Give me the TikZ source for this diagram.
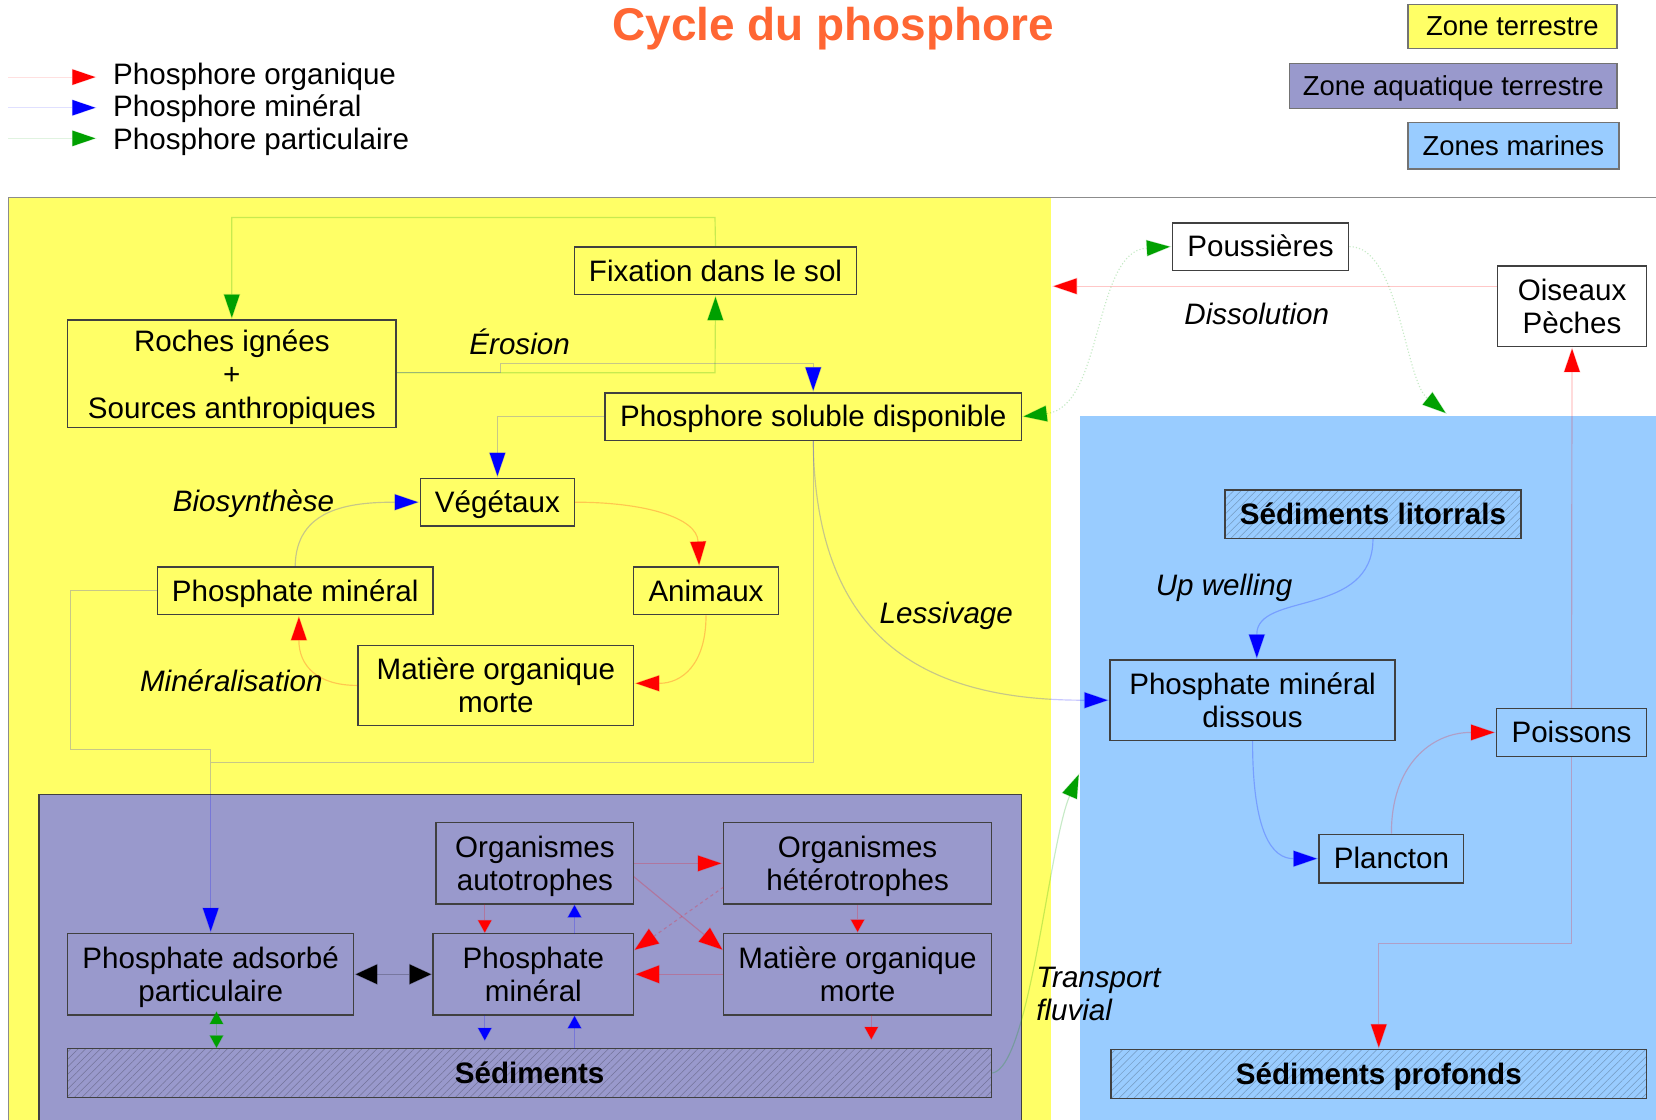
\documentclass[tikz,border=0pt]{standalone}
\usepackage{fontspec}
\setmainfont{Liberation Sans}
\usetikzlibrary{arrows.meta,patterns.meta}
\definecolor{zyel}{HTML}{FFFF66}
\definecolor{zpur}{HTML}{9999CC}
\definecolor{zblu}{HTML}{99CCFF}
\definecolor{ttl}{HTML}{FF6633}
\definecolor{grn}{HTML}{00A000}
\definecolor{bord}{HTML}{404040}
\newcommand\txtsz{\fontsize{28}{31.5}\selectfont}
\newcommand\stA{\rule[-5.9pt]{0pt}{31.2pt}}
\newcommand\stB{\rule[-5.5pt]{0pt}{29pt}}
\newcommand\mlA[1]{\raisebox{-4pt}[\height][\depth]{\begin{tabular}{@{}c@{}}#1\end{tabular}}}
\begin{document}
\begin{tikzpicture}[x=1pt,y=-1pt,
  every node/.style={font=\txtsz},
  bxbase/.style={draw=bord,line width=1.3pt,inner sep=0pt,align=center},
  bx/.style={bxbase,execute at begin node=\stA},
  one/.style={execute at begin node=\stA},
  hatchp/.style={bx,font=\txtsz\bfseries,pattern={Lines[angle=45,distance=5pt,line width=0.5pt]},pattern color=#1},
  zbox/.style={bxbase,draw=black!55,font=\fontsize{26}{30}\selectfont,execute at begin node=\stB},
  lbl/.style={font=\txtsz\itshape,inner sep=0pt},
  conn/.style={line width=1.1pt,draw opacity=0.22},
  big/.style={-{Triangle[length=24pt,width=16pt]}},
  sml/.style={-{Triangle[length=13pt,width=14pt]}},
  rl/.style={conn,draw=red},
  bl/.style={conn,draw=blue},
  gl/.style={conn,draw=grn},
]
\useasboundingbox (0,0) rectangle (1568,1060);
% regions
\fill[zyel] (8,187) rectangle (995,1060);
\fill[zblu] (1023,394) rectangle (1568,1060);
\draw[black!45,line width=1.5pt] (8,1060) -- (8,187) -- (1568,187);
\filldraw[fill=zpur,draw=bord,line width=1.3pt] (37,1060) -- (37,752) -- (967,752) -- (967,1060);
% title and legends
\node[font=\fontsize{43.5}{48}\selectfont\bfseries,text=ttl] (title) at (789,27) {Cycle du phosphore};
\coordinate (lr0) at (8,73); \coordinate (lr1) at (92,73);
\coordinate (lb0) at (8,102); \coordinate (lb1) at (92,102);
\coordinate (lg0) at (8,131); \coordinate (lg1) at (92,131);
\draw[rl,big,draw opacity=0.12] (lr0) -- (lr1);
\draw[bl,big,draw opacity=0.12] (lb0) -- (lb1);
\draw[gl,big,draw opacity=0.12] (lg0) -- (lg1);
\node[anchor=west,inner sep=0pt,one] (tlr) at (107,70) {Phosphore organique};
\node[anchor=west,inner sep=0pt,one] (tlb) at (107,101) {Phosphore minéral};
\node[anchor=west,inner sep=0pt,one] (tlg) at (107,132) {Phosphore particulaire};
\node[zbox,fill=zyel,minimum width=198pt,minimum height=42pt] (zt) at (1432,25) {Zone terrestre};
\node[zbox,fill=zpur,minimum width=310pt,minimum height=43pt] (za) at (1376,81.5) {Zone aquatique terrestre};
\node[zbox,fill=zblu,minimum width=200pt,minimum height=44pt] (zm) at (1433,138) {Zones marines};
% boxes
\node[bx,minimum width=267pt,minimum height=45pt] (fix) at (677.5,256.5) {Fixation dans le sol};
\node[bx,font=\fontsize{28}{32}\selectfont,minimum width=311pt,minimum height=102pt] (roc) at (219.5,354) {\mlA{Roches ignées\\+\\Sources anthropiques}};
\node[bx,minimum width=394pt,minimum height=45pt] (ps) at (770,394.5) {Phosphore soluble disponible};
\node[bx,minimum width=146pt,minimum height=45pt] (veg) at (471,475.5) {Végétaux};
\node[bx,minimum width=261pt,minimum height=45pt] (pml) at (279.5,559.5) {Phosphate minéral};
\node[bx,minimum width=137pt,minimum height=45pt] (ani) at (668.5,559.5) {Animaux};
\node[bx,minimum width=261pt,minimum height=76pt] (mol) at (469.5,649) {\mlA{Matière organique\\morte}};
\node[bx,fill=white,minimum width=167pt,minimum height=45pt] (pou) at (1193.5,233.5) {Poussières};
\node[bx,fill=white,minimum width=141pt,minimum height=76pt] (ois) at (1488.5,290) {\mlA{Oiseaux\\Pèches}};
\node[hatchp=zblu!75!black,minimum width=280pt,minimum height=46pt] (sdl) at (1300,487) {Sédiments litorrals};
\node[bx,minimum width=270pt,minimum height=76pt] (pmd) at (1186,663) {\mlA{Phosphate minéral\\dissous}};
\node[bx,minimum width=142pt,minimum height=45pt] (poi) at (1488,693.5) {Poissons};
\node[bx,minimum width=137pt,minimum height=46pt] (pla) at (1317.5,813) {Plancton};
\node[hatchp=zblu!75!black,minimum width=507pt,minimum height=46pt] (sdp) at (1305.5,1017) {Sédiments profonds};
\node[bx,minimum width=187pt,minimum height=77pt] (aut) at (506.5,817.5) {\mlA{Organismes\\autotrophes}};
\node[bx,minimum width=254pt,minimum height=77pt] (het) at (812,817.5) {\mlA{Organismes\\hétérotrophes}};
\node[bx,minimum width=271pt,minimum height=77pt] (pad) at (199.5,922.5) {\mlA{Phosphate adsorbé\\particulaire}};
\node[bx,minimum width=190pt,minimum height=77pt] (pma) at (505,922.5) {\mlA{Phosphate\\minéral}};
\node[bx,minimum width=254pt,minimum height=77pt] (moa) at (812,922.5) {\mlA{Matière organique\\morte}};
\node[hatchp=zpur!75!black,minimum width=875pt,minimum height=46pt] (sed) at (501.5,1016) {Sédiments};
% labels
\node[lbl] (lero) at (492,324) {Érosion};
\node[lbl] (ldis) at (1190,297) {Dissolution};
\node[lbl] (lbio) at (240,477) {Biosynthèse};
\node[lbl] (lmin) at (219,645) {Minéralisation};
\node[lbl] (lles) at (896,583) {Lessivage};
\node[lbl] (lupw) at (1159,557) {Up welling};
\node[lbl,anchor=west,align=left] (ltra) at (981,941) {Transport\\fluvial};
% land connectors
\draw[gl,big] (fix.north) -- (677,206) -- (219.5,206) -- (roc.north);
\draw[gl,big] (roc.east |- 0,353) -- (677,353) -- (fix.south);
\draw[bl,big] (roc.east |- 0,353) -- (474,353) -- (474,344) -- (770,344) -- (ps.north);
\draw[bl,big] (ps.west) -- (471,394.5) -- (veg.north);
\draw[bl,big] (pml.north) .. controls (280,482) and (330,475.5) .. (veg.west);
\draw[rl,big] (veg.east) .. controls (610,475.5) and (660,490) .. (ani.north -| 662,0);
\draw[rl,big] (ani.south) .. controls (668.5,630) and (645,647) .. (mol.east |- 0,647);
\draw[rl,big] (mol.west) .. controls (300,649) and (283,630) .. (pml.south -| 283,0);
\draw[bl,big] (pml.west) -- (67,559.5) -- (67,710) -- (199.5,710) -- (pad.north);
\draw[bl] (ps.south) -- (770,722) -- (199.5,722);
\draw[bl,big] (ps.south) .. controls (772,610) and (880,663) .. (pmd.west);
% sea connectors
\coordinate (oisend) at (996,271);
\draw[rl,big] (ois.west |- 0,271) -- (oisend);
\draw[gl,dotted,{Triangle[length=24pt,width=16pt]}-{Triangle[length=24pt,width=16pt]}] (ps.east) .. controls (1045,385) and (1035,238) .. (pou.west);
\coordinate (pouend) at (1370,392);
\draw[gl,dotted,big] (pou.east) .. controls (1325,233) and (1330,360) .. (pouend);
\draw[bl,big] (sdl.south) .. controls (1300,585) and (1190,560) .. (pmd.north -| 1190,0);
\draw[bl,big] (pmd.south) .. controls (1186,790) and (1205,813) .. (pla.west);
\draw[rl,big] (pla.north) .. controls (1317,725) and (1355,693.5) .. (poi.west);
\draw[rl,big] (poi.north) -- (ois.south);
\draw[rl,big] (poi.south) -- (1488,893) -- (1305.5,893) -- (sdp.north);
\coordinate (traend) at (1022,732);
\draw[gl,big] (sed.east) .. controls (975,1010) and (993,800) .. (traend);
% aquatic connectors
\draw[conn,draw=black,{Triangle[length=22pt,width=20pt]}-{Triangle[length=22pt,width=20pt]}] (pad.east) -- (pma.west);
\draw[gl,{Triangle[length=13pt,width=14pt]}-{Triangle[length=13pt,width=14pt]}] (205,957) -- (205,993);
\draw[rl,sml] (459,856) -- (459,884);
\draw[bl,sml] (544,884) -- (544,856);
\draw[bl,sml] (459,961) -- (459,986);
\draw[bl,sml] (544,993) -- (544,961);
\draw[rl,sml] (het.south) -- (moa.north);
\draw[rl,sml] (825,961) -- (825,985);
\draw[rl,big] (aut.east) -- (het.west);
\draw[rl,-{Triangle[length=24pt,width=18pt]}] (600,830) -- (685,900);
\draw[rl,dashed,-{Triangle[length=24pt,width=18pt]}] (685,840) -- (600,900);
\draw[rl,-{Triangle[length=24pt,width=18pt]}] (moa.west) -- (pma.east);
\end{tikzpicture}
\end{document}
